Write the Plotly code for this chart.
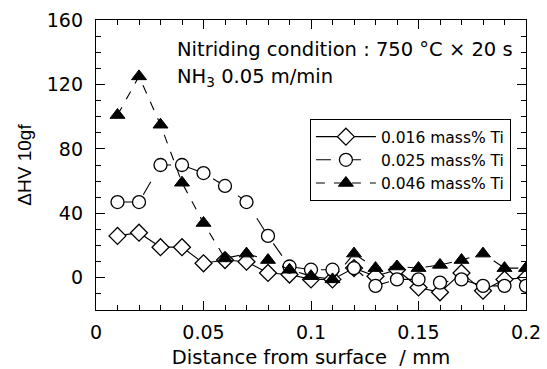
import plotly.graph_objects as go

distance_mm = [0.01, 0.02, 0.03, 0.04, 0.05, 0.06, 0.07, 0.08, 0.09, 0.10,
               0.11, 0.12, 0.13, 0.14, 0.15, 0.16, 0.17, 0.18, 0.19, 0.20]
ti_016 = [26, 28, 19, 19, 9, 11, 10, 3, 2, -1, -1, 6, 1, 5, -6, -9, 3, -8, -1, 0]
ti_025 = [47, 47, 70, 70, 65, 57, 47, 26, 7, 5, 5, 6, -5, -1, -1, -3, -1, -5, -5, -5]
ti_046 = [101, 125, 95, 59, 34, 12, 15, 11, 5, 1, -1, 15, 6, 7, 6, 8, 11, 15, 6, 6]

series_names = ["0.016 mass% Ti", "0.025 mass% Ti", "0.046 mass% Ti"]
x_ticks = [0, 0.05, 0.1, 0.15, 0.2]
x_tick_text = ["0", "0.05", "0.1", "0.15", "0.2"]
y_ticks = [0, 40, 80, 120, 160]

FONT = "DejaVu Sans, Verdana, sans-serif"
FONT_N = "Liberation Sans, Arial, Helvetica, sans-serif"

fig = go.Figure()
fig.add_trace(go.Scatter(
    x=distance_mm, y=ti_016, name=series_names[0], mode="lines+markers",
    line=dict(color="black", width=1.1, dash="solid"),
    marker=dict(symbol="diamond", size=13, color="white", line=dict(color="black", width=1.3)),
))
fig.add_trace(go.Scatter(
    x=distance_mm, y=ti_025, name=series_names[1], mode="lines+markers",
    line=dict(color="black", width=1.1, dash="longdash"),
    marker=dict(symbol="circle", size=13, color="white", line=dict(color="black", width=1.3)),
))
fig.add_trace(go.Scatter(
    x=distance_mm, y=ti_046, name=series_names[2], mode="lines+markers",
    line=dict(color="black", width=1.1, dash="dash"),
    marker=dict(symbol="triangle-up", size=13, color="black", line=dict(color="black", width=1)),
))

axis_common = dict(
    showgrid=False, zeroline=False, showline=True, linecolor="black", linewidth=1.3,
    mirror="ticks", ticks="inside", ticklen=9, tickwidth=1.2, tickcolor="black",
    tickfont=dict(size=19, color="black", family=FONT), automargin=False,
)

fig.update_xaxes(
    range=[0, 0.2], tickvals=x_ticks, ticktext=x_tick_text, ticklabelstandoff=5,
    minor=dict(dtick=0.01, ticks="inside", ticklen=5, tickwidth=1, tickcolor="black"),
    title=dict(text="Distance from surface  / mm", font=dict(size=19.5, color="black", family=FONT), standoff=14),
    **axis_common,
)
fig.update_yaxes(
    range=[-20, 160], tickvals=y_ticks, ticklabelstandoff=8,
    minor=dict(dtick=10, ticks="inside", ticklen=5, tickwidth=1, tickcolor="black"),
    title=dict(text="ΔHV 10gf", font=dict(size=19, color="black", family=FONT_N), standoff=10),
    **axis_common,
)

fig.add_annotation(x=0.184, y=0.897, xref="paper", yref="paper", xanchor="left", yanchor="middle",
                   text="Nitriding condition : 750 °C × 20 s", showarrow=False,
                   font=dict(size=19.5, color="black", family=FONT))
fig.add_annotation(x=0.184, y=0.80, xref="paper", yref="paper", xanchor="left", yanchor="middle",
                   text="NH<sub>3</sub> 0.05 m/min", showarrow=False,
                   font=dict(size=19.5, color="black", family=FONT))

fig.update_layout(
    width=547, height=369,
    margin=dict(l=96, r=21, t=20, b=59),
    paper_bgcolor="white", plot_bgcolor="white",
    font=dict(family=FONT, color="black"),
    legend=dict(x=0.497, y=0.659, xanchor="left", yanchor="top",
                bordercolor="black", borderwidth=1.2, bgcolor="white",
                font=dict(size=15.5, color="black", family=FONT),
                itemwidth=60, tracegroupgap=2),
    showlegend=True,
)

fig.write_html(
    "out.html",
    config={"displayModeBar": False},
    post_script="document.documentElement.style.margin='0';document.body.style.margin='0';"
                "document.body.style.padding='0';document.body.style.overflow='hidden';",
)
